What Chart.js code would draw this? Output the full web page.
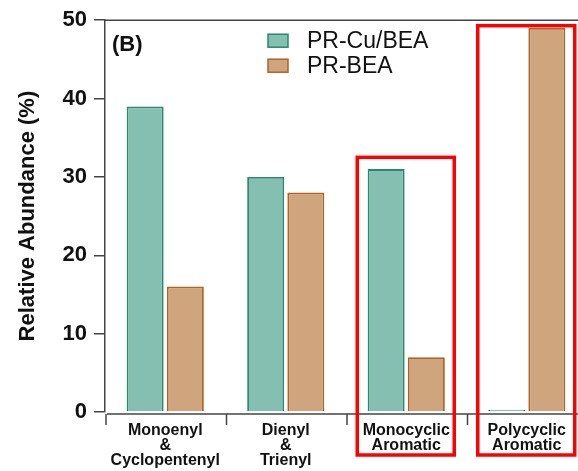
<!DOCTYPE html>
<html>
<head>
<meta charset="utf-8">
<script src="https://cdn.jsdelivr.net/npm/chart.js@4"></script>
<style>
  html, body { margin: 0; padding: 0; background: #fff; overflow: hidden; }
  #wrap { width: 578px; height: 471px; overflow: hidden; }
</style>
</head>
<body>
<div id="wrap"><canvas id="barChart" width="590" height="471"></canvas></div>
<script>
// categories and values
const categories = [
    ['Monoenyl', '&', 'Cyclopentenyl'],
    ['Dienyl', '&', 'Trienyl'],
    ['Monocyclic', 'Aromatic'],
    ['Polycyclic', 'Aromatic']
];
const cuBeaValues = [39, 30, 31, 0.3];
const beaValues = [16, 28, 7, 49];
const yTicks = [0, 10, 20, 30, 40, 50];
// highlighted categories (index) and the value the red box reaches up to
const highlightIndex = [2, 3];
const highlightTop = [32.5, 49.3];

const axisColor = '#444';

const decorations = {
    id: 'decorations',
    afterDraw(chart) {
        const { ctx, chartArea, scales } = chart;
        const x = scales.x;
        const y = scales.y;
        ctx.save();

        // top frame line
        ctx.strokeStyle = axisColor;
        ctx.lineWidth = 1.5;
        ctx.beginPath();
        ctx.moveTo(chartArea.left, chartArea.top);
        ctx.lineTo(chart.width, chartArea.top);
        ctx.stroke();

        // detached x axis with ticks at category boundaries
        const axisY = chartArea.bottom + 2;
        ctx.beginPath();
        ctx.moveTo(chartArea.left + 2, axisY);
        ctx.lineTo(chart.width, axisY);
        for (let i = 0; i <= categories.length; i++) {
            const px = x.getPixelForValue(i - 0.5);
            ctx.moveTo(px + 1, axisY);
            ctx.lineTo(px + 1, axisY + 11);
        }
        ctx.stroke();

        // panel label
        ctx.fillStyle = '#111';
        ctx.font = 'bold 22px "Liberation Sans", Arial, sans-serif';
        ctx.textAlign = 'left';
        ctx.textBaseline = 'alphabetic';
        ctx.fillText('(B)', chartArea.left + 7, chartArea.top + 31);

        // legend
        ctx.font = '23px "Liberation Sans", Arial, sans-serif';
        ctx.textBaseline = 'middle';
        chart.data.datasets.forEach((ds, i) => {
            const cy = chartArea.top + 20 + i * 25;
            ctx.fillStyle = ds.backgroundColor;
            ctx.strokeStyle = ds.borderColor;
            ctx.lineWidth = 1.5;
            ctx.fillRect(268, cy - 6, 20, 13);
            ctx.strokeRect(268, cy - 6, 20, 13);
            ctx.fillStyle = '#111';
            ctx.fillText(ds.label, 307, cy + 1);
        });

        // red highlight boxes
        ctx.strokeStyle = '#ff0000';
        ctx.lineWidth = 3.5;
        highlightIndex.forEach((idx, k) => {
            const cx = x.getPixelForValue(idx);
            const top = y.getPixelForValue(highlightTop[k]);
            ctx.strokeRect(cx - 49, top, 97, chartArea.bottom + 43 - top);
        });

        ctx.restore();
    }
};

const ctx = document.getElementById('barChart').getContext('2d');
const myBarChart = new Chart(ctx, {
    type: 'bar',
    data: {
        labels: categories,
        datasets: [
            {
                label: 'PR-Cu/BEA',
                data: cuBeaValues,
                backgroundColor: 'rgb(132, 191, 177)',
                borderColor: 'rgb(38, 138, 108)',
                borderWidth: 1.8
            },
            {
                label: 'PR-BEA',
                data: beaValues,
                backgroundColor: 'rgb(207, 165, 125)',
                borderColor: 'rgb(178, 98, 38)',
                borderWidth: 1.8
            }
        ]
    },
    options: {
        responsive: false,
        animation: false,
        categoryPercentage: 0.667,
        barPercentage: 0.92,
        layout: { padding: { top: 20, right: 3, left: 0, bottom: 0 } },
        plugins: {
            legend: { display: false },
            tooltip: { enabled: false }
        },
        scales: {
            x: {
                offset: true,
                border: { display: false },
                grid: { display: false },
                ticks: {
                    color: '#111',
                    padding: 3,
                    maxRotation: 0,
                    autoSkip: false,
                    font: { family: '"Liberation Sans", Arial, sans-serif', size: 16, weight: 'bold', lineHeight: 0.95 }
                },
                afterFit(scale) { scale.height = 59; }
            },
            y: {
                min: 0,
                max: 50,
                afterBuildTicks(scale) {
                    scale.ticks = yTicks.map(v => ({ value: v }));
                },
                border: { display: true, color: axisColor, width: 1.5 },
                grid: { drawOnChartArea: false, color: axisColor, lineWidth: 1.5, tickLength: 11 },
                ticks: {
                    color: '#111',
                    padding: 7,
                    font: { family: '"Liberation Sans", Arial, sans-serif', size: 22, weight: 'bold' }
                },
                title: {
                    display: true,
                    text: 'Relative Abundance (%)',
                    color: '#111',
                    padding: { top: 15, bottom: 0 },
                    font: { family: '"Liberation Sans", Arial, sans-serif', size: 22, weight: 'bold' }
                },
                afterFit(scale) { scale.width = 105; }
            }
        }
    },
    plugins: [decorations]
});
</script>
</body>
</html>
